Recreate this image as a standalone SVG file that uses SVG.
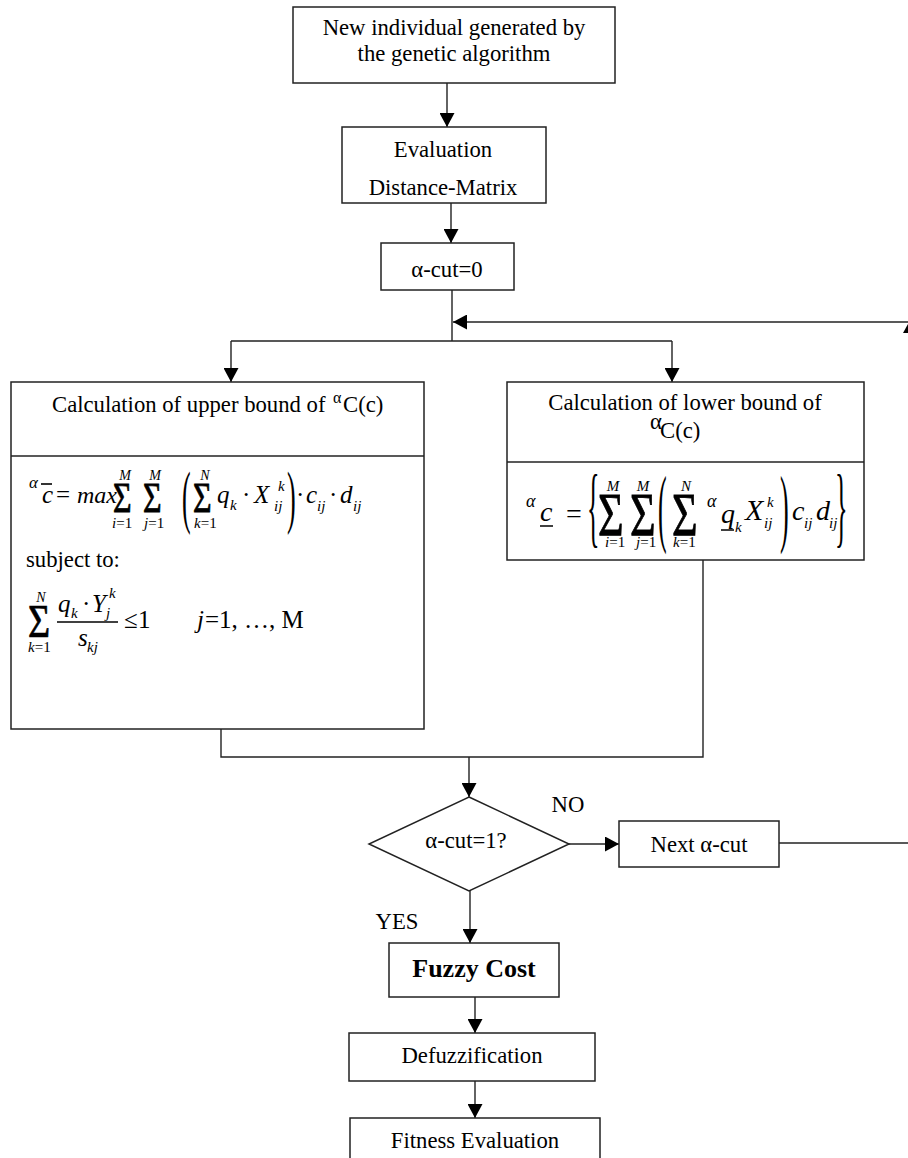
<svg xmlns="http://www.w3.org/2000/svg" width="908" height="1158" viewBox="0 0 908 1158">
<defs>
<style>
.box{fill:#fff;stroke:#222;stroke-width:1.5}
.ln{fill:none;stroke:#222;stroke-width:1.4}
.t{font-family:"Liberation Serif","Times New Roman",serif;font-size:22.7px;fill:#000}
.c{text-anchor:middle}
.b{font-weight:bold;font-size:26px}
.i{font-family:"Liberation Serif","Times New Roman",serif;font-style:italic;fill:#000}
.u{font-family:"Liberation Serif","Times New Roman",serif;font-style:normal;fill:#000}
.s{stroke:#000;stroke-width:0.6}
</style>
<marker id="ah" markerWidth="14" markerHeight="15" refX="14" refY="7.5" orient="auto" markerUnits="userSpaceOnUse">
<path d="M0,0 L14,7.5 L0,15 z" fill="#000"/>
</marker>
</defs>
<rect width="908" height="1158" fill="#fff"/>

<g id="connectors">
<line class="ln" x1="447" y1="83" x2="447" y2="127" marker-end="url(#ah)"/>
<line class="ln" x1="451" y1="203" x2="451" y2="243" marker-end="url(#ah)"/>
<path class="ln" d="M452,290 V341 M231,341 H672"/>
<line class="ln" x1="231" y1="341" x2="231" y2="382" marker-end="url(#ah)"/>
<line class="ln" x1="672" y1="341" x2="672" y2="382" marker-end="url(#ah)"/>
<line class="ln" x1="908" y1="322" x2="453" y2="322" marker-end="url(#ah)"/>
<polygon points="903,333 908,333 908,324" fill="#000"/>
<path class="ln" d="M221,729 V757 H703 V560"/>
<line class="ln" x1="469" y1="757" x2="469" y2="797" marker-end="url(#ah)"/>
<line class="ln" x1="569" y1="844" x2="619" y2="844" marker-end="url(#ah)"/>
<line class="ln" x1="779" y1="843" x2="908" y2="843"/>
<line class="ln" x1="470" y1="891" x2="470" y2="943" marker-end="url(#ah)"/>
<line class="ln" x1="475" y1="997" x2="475" y2="1033" marker-end="url(#ah)"/>
<line class="ln" x1="475" y1="1081" x2="475" y2="1118" marker-end="url(#ah)"/>
</g>

<g id="new-individual">
<rect class="box" x="293" y="7" width="322" height="76"/>
<text class="t c" x="454" y="35">New individual generated by</text>
<text class="t c" x="454" y="61">the genetic algorithm</text>
</g>

<g id="evaluation">
<rect class="box" x="342" y="127" width="204" height="76"/>
<text class="t c" x="443" y="157">Evaluation</text>
<text class="t c" x="443" y="195">Distance-Matrix</text>
</g>

<g id="alpha-cut-0">
<rect class="box" x="381" y="243" width="133" height="47"/>
<text class="t c" x="447" y="277">α-cut=0</text>
</g>

<g id="upper-bound">
<rect class="box" x="11" y="382" width="413" height="347"/>
<line class="ln" x1="11" y1="456" x2="424" y2="456"/>
<text class="t" x="52" y="412">Calculation of upper bound of <tspan x="333" y="403" font-size="16">α</tspan><tspan x="343" y="412">C(c)</tspan></text>
<g id="upper-formula">
<text class="i" x="29" y="488" font-size="17">α</text>
<line x1="41" y1="484" x2="52" y2="484" stroke="#000" stroke-width="1.6"/>
<text class="i" x="42" y="503" font-size="25">c</text>
<text class="u" x="56" y="503" font-size="25">=</text>
<text class="i" x="77" y="503" font-size="24">max</text>
<text class="u s" x="113" y="0" font-size="32" transform="translate(0,512) scale(1,1.3)">Σ</text>
<text class="u s" x="143" y="0" font-size="32" transform="translate(0,512) scale(1,1.3)">Σ</text>
<text class="i c" x="125" y="480" font-size="14">M</text>
<text class="i c" x="155" y="480" font-size="14">M</text>
<text class="i" x="112" y="528" font-size="15">i<tspan class="u">=1</tspan></text>
<text class="i" x="144" y="528" font-size="15">j<tspan class="u">=1</tspan></text>
<text class="u" x="0" y="0" font-size="26" transform="translate(182,520) scale(1,2.7)">(</text>
<text class="u s" x="193" y="0" font-size="32" transform="translate(0,512) scale(1,1.3)">Σ</text>
<text class="i c" x="205" y="480" font-size="14">N</text>
<text class="i" x="194" y="528" font-size="15">k<tspan class="u">=1</tspan></text>
<text class="i" x="217" y="503" font-size="25">q</text>
<text class="i" x="230" y="510" font-size="15">k</text>
<text class="u" x="242" y="503" font-size="25">·</text>
<text class="i" x="254" y="503" font-size="25">X</text>
<text class="i" x="278" y="491" font-size="15">k</text>
<text class="i" x="274" y="511" font-size="15">ij</text>
<text class="u" x="0" y="0" font-size="26" transform="translate(287,520) scale(1,2.7)">)</text>
<text class="u" x="296" y="503" font-size="25">·</text>
<text class="i" x="306" y="503" font-size="25">c</text>
<text class="i" x="317" y="511" font-size="15">ij</text>
<text class="u" x="329" y="503" font-size="25">·</text>
<text class="i" x="340" y="503" font-size="25">d</text>
<text class="i" x="353" y="511" font-size="15">ij</text>
</g>
<text class="t" x="26" y="567">subject to:</text>
<g id="constraint">
<text class="i c" x="41" y="602" font-size="14">N</text>
<text class="u s" x="28" y="0" font-size="38" transform="translate(0,637) scale(1,1.2)">Σ</text>
<text class="i" x="28" y="652" font-size="15">k<tspan class="u">=1</tspan></text>
<text class="i" x="58" y="612" font-size="25">q</text>
<text class="i" x="71" y="618" font-size="15">k</text>
<text class="u" x="82" y="612" font-size="25">·</text>
<text class="i" x="92" y="612" font-size="25">Y</text>
<text class="i" x="109" y="598" font-size="15">k</text>
<text class="i" x="106" y="618" font-size="15">j</text>
<line x1="57" y1="622" x2="118" y2="622" stroke="#000" stroke-width="1.3"/>
<text class="i" x="78" y="646" font-size="25">s</text>
<text class="i" x="87" y="652" font-size="15">kj</text>
<text class="u" x="124" y="628" font-size="25">≤</text>
<text class="u" x="138" y="628" font-size="25">1</text>
<text class="i" x="197" y="628" font-size="25">j</text>
<text class="u" x="205" y="628" font-size="25">=</text>
<text class="u" x="219" y="628" font-size="25">1, …, M</text>
</g>
</g>

<g id="lower-bound">
<rect class="box" x="507" y="382" width="357" height="178"/>
<line class="ln" x1="507" y1="462" x2="864" y2="462"/>
<text class="t c" x="685" y="410">Calculation of lower bound of</text>
<text class="t" x="650" y="429" font-size="16">α</text>
<text class="t" x="660" y="438">C(c)</text>
<g id="lower-formula">
<text class="i" x="526" y="507" font-size="18">α</text>
<text class="i" x="540" y="521" font-size="28">c</text>
<line x1="540" y1="526" x2="553" y2="526" stroke="#000" stroke-width="1.5"/>
<text class="u" x="566" y="523" font-size="28">=</text>
<text class="u" x="0" y="0" font-size="26" transform="translate(587,536) scale(1,3.4)">{</text>
<text class="u s" x="598" y="0" font-size="44" transform="translate(0,535) scale(1,1.38)">Σ</text>
<text class="u s" x="630" y="0" font-size="44" transform="translate(0,535) scale(1,1.38)">Σ</text>
<text class="i c" x="613" y="491" font-size="15">M</text>
<text class="i c" x="643" y="491" font-size="15">M</text>
<text class="i" x="605" y="547" font-size="15">i<tspan class="u">=1</tspan></text>
<text class="i" x="636" y="547" font-size="15">j<tspan class="u">=1</tspan></text>
<text class="u" x="0" y="0" font-size="26" transform="translate(658,536) scale(1,3.3)">(</text>
<text class="u s" x="672" y="0" font-size="44" transform="translate(0,535) scale(1,1.38)">Σ</text>
<text class="i c" x="686" y="491" font-size="15">N</text>
<text class="i" x="673" y="547" font-size="15">k<tspan class="u">=1</tspan></text>
<text class="i" x="707" y="507" font-size="18">α</text>
<text class="i" x="721" y="523" font-size="28">q</text>
<line x1="721" y1="530" x2="734" y2="530" stroke="#000" stroke-width="1.5"/>
<text class="i" x="735" y="532" font-size="15">k</text>
<text class="i" x="745" y="520" font-size="30">X</text>
<text class="i" x="767" y="507" font-size="15">k</text>
<text class="i" x="764" y="528" font-size="15">ij</text>
<text class="u" x="0" y="0" font-size="26" transform="translate(780,536) scale(1,3.3)">)</text>
<text class="i" x="792" y="520" font-size="28">c</text>
<text class="i" x="804" y="528" font-size="15">ij</text>
<text class="i" x="816" y="520" font-size="28">d</text>
<text class="i" x="829" y="528" font-size="15">ij</text>
<text class="u" x="0" y="0" font-size="26" transform="translate(835,536) scale(1,3.4)">}</text>
</g>
</g>

<g id="decision">
<polygon class="box" points="469,797 569,844 469,891 369,844"/>
<text class="t c" x="466" y="848">α-cut=1?</text>
</g>
<text class="t c" x="568" y="812">NO</text>
<text class="t c" x="397" y="929">YES</text>

<g id="next-alpha">
<rect class="box" x="619" y="821" width="160" height="46"/>
<text class="t c" x="699" y="852">Next α-cut</text>
</g>

<g id="fuzzy-cost">
<rect class="box" x="389" y="943" width="170" height="54"/>
<text class="t c b" x="474" y="977">Fuzzy Cost</text>
</g>

<g id="defuzzification">
<rect class="box" x="349" y="1033" width="246" height="48"/>
<text class="t c" x="472" y="1063">Defuzzification</text>
</g>

<g id="fitness">
<rect class="box" x="350" y="1118" width="250" height="45"/>
<text class="t c" x="475" y="1148">Fitness Evaluation</text>
</g>
</svg>
